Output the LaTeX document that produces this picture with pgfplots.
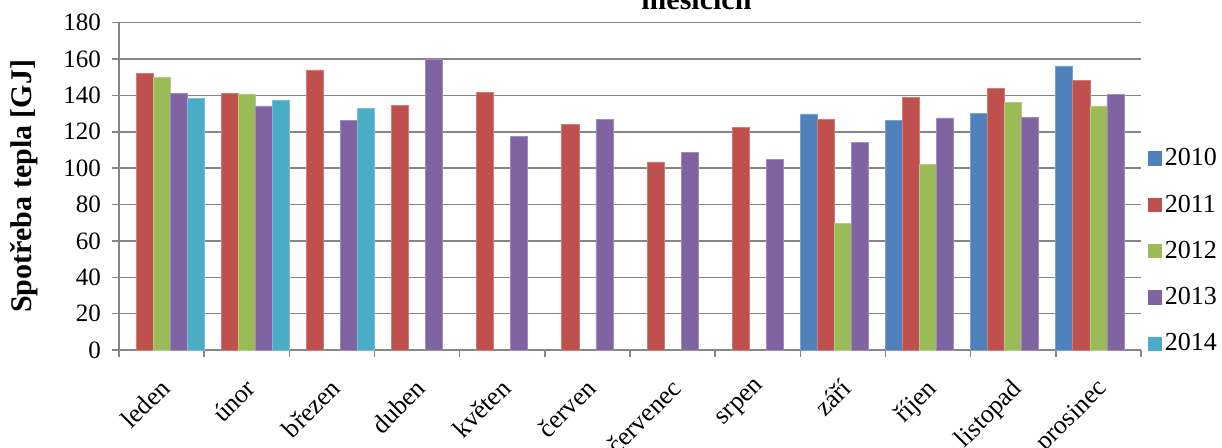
\documentclass[border=0pt]{standalone}
\usepackage{fontspec}
\setmainfont{Liberation Serif}
\usepackage{pgfplots}
\pgfplotsset{compat=1.18}
\definecolor{c2010}{HTML}{4F81BD}
\definecolor{c2011}{HTML}{C0504D}
\definecolor{c2012}{HTML}{9BBB59}
\definecolor{c2013}{HTML}{8064A2}
\definecolor{c2014}{HTML}{4BACC6}
\definecolor{gridc}{RGB}{134,134,134}
\begin{document}
\begin{tikzpicture}
\begin{axis}[
  width=511pt, height=163.65pt, scale only axis,
  clip=false,
  ymin=0, ymax=180, ytick={0,20,...,180},
  xmin=-0.5, xmax=11.5,
  ybar=0pt, bar width=0.2,
  xtick={0,...,11},
  xticklabels={leden,únor,březen,duben,květen,červen,červenec,srpen,září,říjen,listopad,prosinec},
  minor xtick={-0.5,0.5,...,11.5},
  axis x line*=bottom, axis y line*=left,
  axis line style={gridc, line width=0.75pt, -},
  ymajorgrids, major grid style={gridc, line width=0.75pt},
  tick align=outside,
  xtick style={draw=none},
  minor x tick style={gridc, line width=0.75pt, draw=gridc},
  minor tick length=3.5pt,
  ytick style={gridc, line width=0.75pt},
  major tick length=3.5pt,
  /pgf/number format/assume math mode=true,
  tick label style={font=\fontsize{12.5}{14}\selectfont, text=black},
  yticklabel style={xshift=-2pt},
  xticklabel style={rotate=45, anchor=north east, inner sep=0pt, yshift=-6pt, xshift=-8pt, font=\fontsize{13}{15}\selectfont},
  ylabel={Spotřeba tepla [GJ]},
  ylabel style={at={(axis description cs:-0.093,0.5)}, anchor=center, font=\fontsize{15}{17}\selectfont\bfseries},
  legend style={draw=none, fill=none, at={(axis description cs:1.006,0.302)}, anchor=west,
    font=\fontsize{13}{14}\selectfont, row sep=10pt, inner sep=0pt,
    nodes={inner sep=1.5pt}},
  legend cell align=left,
  legend image code/.code={\fill[#1, draw=none] (0pt,-3.6pt) rectangle (7.2pt,3.6pt);},
]
\addplot[fill=c2010, draw=c2010!75!white] coordinates {(8,129.8) (9,126.1) (10,130.2) (11,156.2)};
\addplot[fill=c2011, draw=c2011!75!white] coordinates {(0,152.2) (1,141.2) (2,154) (3,134.6) (4,141.4) (5,123.8) (6,103.4) (7,122.5) (8,126.7) (9,139) (10,143.9) (11,148)};
\addplot[fill=c2012, draw=c2012!75!white] coordinates {(0,149.8) (1,140.8) (8,69.7) (9,102.1) (10,136.2) (11,134.2)};
\addplot[fill=c2013, draw=c2013!75!white] coordinates {(0,141.2) (1,134.2) (2,126) (3,160) (4,117.2) (5,127) (6,108.4) (7,105) (8,114) (9,127.6) (10,128) (11,140.3)};
\addplot[fill=c2014, draw=c2014!75!white] coordinates {(0,138.4) (1,137.1) (2,133)};
\legend{2010,2011,2012,2013,2014}
\node[font=\fontsize{15}{18}\selectfont\bfseries, anchor=base] at (axis description cs:0.565,1.0388) {měsících};
\end{axis}
\pgfresetboundingbox
\path[use as bounding box] ([xshift=-59.5pt,yshift=-49pt]current axis.south west) rectangle ([xshift=40.5pt,yshift=11.35pt]current axis.north east);
\end{tikzpicture}
\end{document}
